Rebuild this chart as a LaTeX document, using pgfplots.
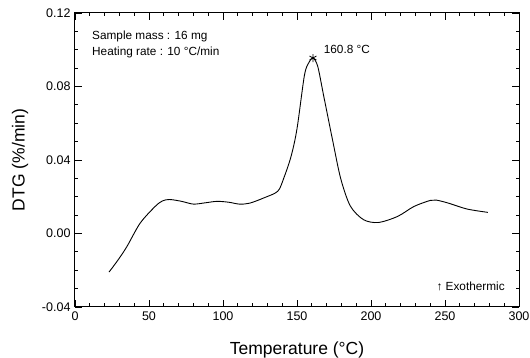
\documentclass[border=0pt]{standalone}
\usepackage{fontspec}
\setmainfont{Liberation Sans}
\usepackage{pgfplots}
\pgfplotsset{compat=1.18}
\begin{document}
\begin{tikzpicture}
\begin{axis}[
 scale only axis, width=444pt, height=294pt,
 xmin=0, xmax=300, ymin=-0.04, ymax=0.12,
 xtick={0,50,...,300}, ytick={-0.04,0,0.04,0.08,0.12},
 minor x tick num=4, minor y tick num=3,
 tick align=inside, major tick length=7pt, minor tick length=3.5pt,
 /pgf/number format/assume math mode=true,
 tick label style={font=\fontsize{12.5}{14}\selectfont},
 xticklabel style={yshift=-1pt},
 yticklabel style={xshift=-1pt},
 y tick label style={/pgf/number format/.cd, fixed, fixed zerofill, precision=2},
 every tick/.style={black, line width=0.8pt},
 axis line style={line width=1pt},
 xlabel={Temperature (°C)},
 ylabel={DTG (\%/min)},
 xlabel style={at={(rel axis cs:0.5,0)}, anchor=base, yshift=-48pt},
 ylabel style={at={(rel axis cs:0,0.5)}, anchor=center, yshift=55pt},
 label style={font=\fontsize{17.5}{20}\selectfont},
 clip=false,
]
\addplot[black, line width=0.9pt, smooth] coordinates {
(23,-0.021) (29,-0.0145) (35,-0.0072) (44,0.0056) (54,0.0146) (59,0.0177) (64,0.0185)
(72,0.0175) (80,0.016) (88,0.0167) (96,0.0175) (104,0.017) (111,0.016) (118,0.0165)
(128,0.0195) (137,0.023) (141,0.030) (146,0.042) (150,0.057) (155,0.086) (158,0.093)
(160.8,0.0955) (164,0.091) (168,0.075) (174,0.051) (179.5,0.030) (186,0.015)
(195,0.0075) (205,0.006) (218,0.0093) (229,0.0147) (240,0.018) (244,0.0182)
(252,0.0166) (265,0.0133) (279,0.0115)
};
\addplot[black, only marks, mark=asterisk, mark size=4pt, line width=0.8pt] coordinates {(160.8,0.0955)};
\node[anchor=north west, align=left, font=\fontsize{11.8}{16}\selectfont, inner sep=0pt] at (axis cs:11.5,0.1105) {Sample mass : 16 mg\\Heating rate : 10 °C/min};
\node[anchor=west, font=\fontsize{11.8}{14}\selectfont, inner sep=0pt] at (axis cs:168,0.1) {160.8 °C};
\node[anchor=east, font=\fontsize{11.8}{14}\selectfont, inner sep=0pt] at (axis cs:290.5,-0.0286) {↑ Exothermic};
\end{axis}
\pgfresetboundingbox
\path[use as bounding box] ([shift={(-75pt,-51pt)}]current axis.south west) rectangle ([shift={(11pt,13pt)}]current axis.north east);
\end{tikzpicture}
\end{document}
